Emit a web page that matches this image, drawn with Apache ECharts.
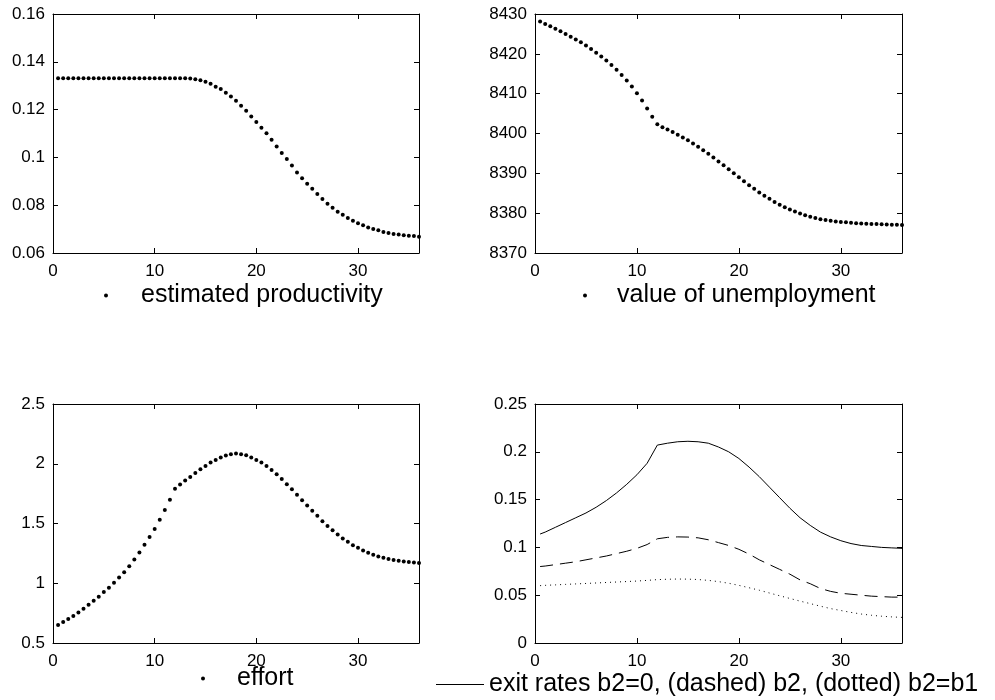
<!DOCTYPE html>
<html><head><meta charset="utf-8">
<script src="https://cdn.jsdelivr.net/npm/echarts@6/dist/echarts.min.js"></script>
<style>html,body{margin:0;padding:0;background:#fff}#c{width:995px;height:700px}</style>
</head><body><div id="c"></div>
<script>
// ---- data ----
const months = [0.5,1,1.5,2,2.5,3,3.5,4,4.5,5,5.5,6,6.5,7,7.5,8,8.5,9,9.5,10,10.5,11,11.5,12,12.5,13,13.5,14,14.5,15,15.5,16,16.5,17,17.5,18,18.5,19,19.5,20,20.5,21,21.5,22,22.5,23,23.5,24,24.5,25,25.5,26,26.5,27,27.5,28,28.5,29,29.5,30,30.5,31,31.5,32,32.5,33,33.5,34,34.5,35,35.5,36];
const productivity = [0.1331,0.1331,0.1331,0.1331,0.1331,0.1331,0.1331,0.1331,0.1331,0.1331,0.1331,0.1331,0.1331,0.1331,0.1331,0.1331,0.1331,0.1331,0.1331,0.1331,0.1331,0.1331,0.1331,0.1331,0.1331,0.1331,
0.1330,0.1327,0.1323,0.1317,0.1308,0.1296,0.1286,0.1270,0.1255,0.1237,0.1216,0.1195,0.1171,0.1148,0.1124,0.1101,0.1074,0.1046,0.1018,0.0993,0.0966,0.0937,0.0913,0.0890,0.0869,0.0847,0.0826,0.0806,0.0789,0.0773,0.0760,0.0746,0.0735,0.0725,0.0716,0.0707,0.0700,0.0695,0.0688,0.0684,0.0679,0.0677,0.0674,0.0672,0.0671,0.0668];
const unemployment = [8428.1,8427.5,8426.9,8426.3,8425.7,8425.0,8424.3,8423.6,8422.9,8422.1,8421.2,8420.3,8419.3,8418.3,8417.2,8416.0,8414.7,8413.3,8411.8,8410.1,8408.3,8406.3,8404.2,8402.3,8401.6,8401.0,8400.4,8399.7,8399.0,8398.3,8397.5,8396.7,8395.8,8394.9,8394.0,8393.0,8392.0,8391.0,8390.0,8389.0,8388.0,8387.0,8386.1,8385.2,8384.4,8383.6,8382.8,8382.1,8381.5,8380.9,8380.4,8379.9,8379.5,8379.1,8378.8,8378.5,8378.3,8378.1,8377.9,8377.8,8377.7,8377.6,8377.5,8377.4,8377.35,8377.3,8377.25,8377.2,8377.15,8377.1,8377.1,8377.05];
const effort = [0.650,0.675,0.701,0.726,0.756,0.787,0.820,0.854,0.887,0.926,0.962,1.004,1.049,1.093,1.143,1.199,1.258,1.322,1.386,1.455,1.531,1.614,1.698,1.790,1.826,1.859,1.890,1.923,1.954,1.982,2.010,2.032,2.052,2.068,2.079,2.085,2.079,2.071,2.052,2.032,2.010,1.982,1.948,1.912,1.873,1.829,1.787,1.740,1.695,1.650,1.606,1.564,1.519,1.480,1.444,1.408,1.375,1.347,1.319,1.297,1.274,1.255,1.238,1.224,1.213,1.202,1.194,1.188,1.182,1.177,1.174,1.169];
const lineMonths = [0.5,1,2,3,4,5,6,7,8,9,10,11,12,13,14,15,16,17,18,19,20,21,22,23,24,25,26,27,28,29,30,31,32,33,34,35,36];
const exitB0 = [0.114,0.116,0.121,0.126,0.131,0.136,0.142,0.149,0.157,0.166,0.176,0.188,0.207,0.209,0.2105,0.211,0.2105,0.209,0.205,0.200,0.193,0.184,0.174,0.163,0.152,0.141,0.131,0.123,0.116,0.111,0.107,0.104,0.102,0.101,0.100,0.0995,0.099];
const exitB2 = [0.080,0.0805,0.082,0.0835,0.085,0.087,0.089,0.091,0.0935,0.096,0.099,0.103,0.109,0.1105,0.111,0.1108,0.110,0.108,0.105,0.102,0.098,0.093,0.087,0.082,0.077,0.072,0.066,0.062,0.057,0.054,0.052,0.051,0.050,0.049,0.0485,0.048,0.048];
const exitB1 = [0.060,0.0603,0.0608,0.0613,0.0618,0.0623,0.0628,0.0633,0.0638,0.0643,0.0648,0.0655,0.0663,0.0667,0.0669,0.0668,0.0664,0.0655,0.0642,0.0625,0.0603,0.0578,0.0552,0.0523,0.0494,0.0466,0.0438,0.0412,0.0385,0.0360,0.0340,0.0320,0.0303,0.0290,0.0280,0.0273,0.0268];
const yRanges = [[0.06,0.16,0.02],[8370,8430,10],[0.5,2.5,0.5],[0,0.25,0.05]];
const names = ['estimated productivity','value of unemployment','effort','exit rates b2=0, (dashed) b2, (dotted) b2=b1'];

// ---- chart ----
const FONT = '"Liberation Sans", Arial, Helvetica, sans-serif';
const grids = [
  {left:53, top:14, width:366, height:239},
  {left:535, top:14, width:367, height:239},
  {left:53, top:404, width:366, height:239},
  {left:535, top:404, width:367, height:239}
];
const fmt = v => String(parseFloat(Number(v).toFixed(6)));
const xAxes = [], yAxes = [];
grids.forEach((g, i) => {
  ['bottom','top'].forEach(pos => xAxes.push({
    type:'value', gridIndex:i, position:pos, min:0, max:36, interval:10,
    axisLine:{show:true, onZero:false, lineStyle:{color:'#000', width:1}},
    axisTick:{show:true, inside:true, length:5, lineStyle:{color:'#000'}},
    axisLabel:{show:pos==='bottom', showMaxLabel:false, color:'#000', fontFamily:FONT, fontSize:17, margin:10, formatter:fmt},
    splitLine:{show:false}
  }));
  const r = yRanges[i];
  ['left','right'].forEach(pos => yAxes.push({
    type:'value', gridIndex:i, position:pos, min:r[0], max:r[1], interval:r[2],
    axisLine:{show:true, onZero:false, lineStyle:{color:'#000', width:1}},
    axisTick:{show:true, inside:true, length:5, lineStyle:{color:'#000'}},
    axisLabel:{show:pos==='left', color:'#000', fontFamily:FONT, fontSize:17, margin:8, formatter:fmt},
    splitLine:{show:false}
  }));
});
const pts = (xs, ys) => xs.map((x, i) => [x, ys[i]]);
const dot = (name, gi, ys) => ({type:'scatter', name, xAxisIndex:gi*2, yAxisIndex:gi*2,
  data:pts(months, ys), symbol:'circle', symbolSize:4, itemStyle:{color:'#000', opacity:1}, silent:true});
const line = (name, ys, type) => ({type:'line', name, xAxisIndex:6, yAxisIndex:6,
  data:pts(lineMonths, ys), symbol:'none', lineStyle:{color:'#000', width:1, type}, itemStyle:{color:'#000'}, silent:true});

const legendBase = {orient:'horizontal', padding:0, itemGap:0, selectedMode:false};
const txt = pad => ({color:'#000', fontFamily:FONT, fontSize:25, padding:[0,0,0,pad]});
const option = {
  animation:false,
  backgroundColor:'#fff',
  grid:grids,
  xAxis:xAxes,
  yAxis:yAxes,
  legend:[
    Object.assign({}, legendBase, {left:104, top:283, data:[names[0]], icon:'circle', itemWidth:4, itemHeight:4, textStyle:txt(28)}),
    Object.assign({}, legendBase, {left:583, top:283, data:[names[1]], icon:'circle', itemWidth:4, itemHeight:4, textStyle:txt(25)}),
    Object.assign({}, legendBase, {left:201, top:666, data:[names[2]], icon:'circle', itemWidth:4, itemHeight:4, textStyle:txt(27)}),
    Object.assign({}, legendBase, {left:436, top:672, data:[names[3]], icon:'rect', itemWidth:48, itemHeight:1, textStyle:txt(0)})
  ],
  series:[
    dot(names[0], 0, productivity),
    dot(names[1], 1, unemployment),
    dot(names[2], 2, effort),
    line(names[3], exitB0, 'solid'),
    line('b2', exitB2, [13,7]),
    line('b2=b1', exitB1, [1,4])
  ]
};
const chart = echarts.init(document.getElementById('c'), null, {renderer:'canvas'});
chart.setOption(option);
</script></body></html>
